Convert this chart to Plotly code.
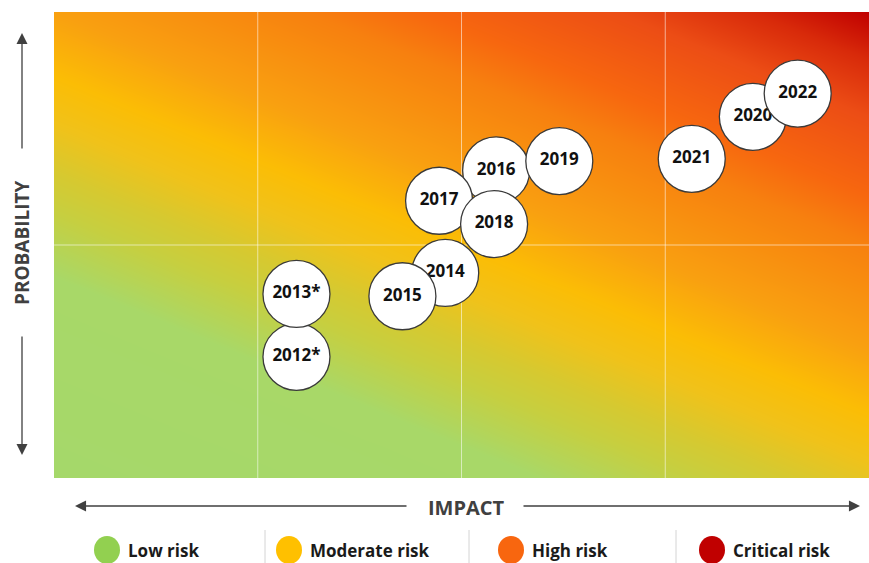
import numpy as np
import plotly.graph_objects as go

# ---- data ----
years = ["2012*", "2013*", "2014", "2015", "2016", "2017", "2018", "2019", "2020", "2021", "2022"]
impact = [1.19, 1.19, 1.92, 1.71, 2.17, 1.89, 2.16, 2.48, 3.43, 3.13, 3.65]
probability = [0.52, 0.79, 0.88, 0.78, 1.32, 1.19, 1.09, 1.36, 1.55, 1.37, 1.65]

risk_levels = ["Low risk", "Moderate risk", "High risk", "Critical risk"]
risk_colors = ["#92d050", "#ffc000", "#f8660f", "#c00000"]

X_MAX, Y_MAX = 4, 2
FONT = "Open Sans"

# ---- background gradient (styling) ----
gx = np.linspace(0, X_MAX, 60)
gy = np.linspace(0, Y_MAX, 60)
GX, GY = np.meshgrid(gx, gy)
gz = 0.42 * GX / X_MAX + 0.58 * GY / Y_MAX
bg_scale = [
    [0.0, "#a5d86a"], [0.25, "#a8d868"], [0.33, "#c6cf40"], [0.38, "#d6c930"],
    [0.44, "#f0c21a"], [0.5, "#fbbd05"], [0.58, "#f9a010"], [0.71, "#f7800f"],
    [0.77, "#f7670f"], [0.87, "#ec4d15"], [0.94, "#d82a0a"], [1.0, "#c00000"],
]

fig = go.Figure()
fig.add_trace(go.Heatmap(x=gx, y=gy, z=gz, colorscale=bg_scale, zsmooth="best",
                         zmin=0, zmax=1, showscale=False, hoverinfo="skip"))

# faint grid lines above the gradient, below the circles
grid_x = [1, 2, 3]
grid_y = [1]
lx, ly = [], []
for g in grid_x:
    lx += [g, g, None]
    ly += [0, Y_MAX, None]
for g in grid_y:
    lx += [0, X_MAX, None]
    ly += [g, g, None]
fig.add_trace(go.Scatter(x=lx, y=ly, mode="lines",
                         line=dict(color="rgba(255,255,255,0.55)", width=1),
                         hoverinfo="skip", showlegend=False))

for yr, xi, yi in zip(years, impact, probability):
    fig.add_trace(go.Scatter(
        x=[xi], y=[yi], mode="markers+text", text=[yr], textposition="middle center",
        marker=dict(size=67, color="white", line=dict(color="#3a3a3a", width=1.3)),
        textfont=dict(family=FONT, size=17, color="#111111", weight="bold"),
        showlegend=False, hoverinfo="skip"))

W, H = 869, 563
L, R, T, B = 54, 0, 12, 85
pw, ph = W - L - R, H - T - B


def px(xp):
    return (xp - L) / pw


def py(yp):
    return (H - B - yp) / ph


annotations = []
shapes = []
axis_col = "#404040"
# axis titles
annotations.append(dict(x=px(22), y=py(243), xref="paper", yref="paper", text="<b>PROBABILITY</b>",
                        textangle=-90, showarrow=False, xanchor="center", yanchor="middle",
                        font=dict(family=FONT, size=19, color=axis_col)))
annotations.append(dict(x=px(466), y=py(507), xref="paper", yref="paper", text="<b>IMPACT</b>",
                        showarrow=False, xanchor="center", yanchor="middle",
                        font=dict(family=FONT, size=20, color=axis_col)))
# arrows
arrow = dict(xref="paper", yref="paper", axref="pixel", ayref="pixel", text="", showarrow=True,
             arrowhead=2, arrowsize=1.7, arrowwidth=1.3, arrowcolor=axis_col)
annotations.append(dict(arrow, x=px(22), y=py(33), ax=0, ay=117))
annotations.append(dict(arrow, x=px(22), y=py(455), ax=0, ay=-120))
annotations.append(dict(arrow, x=px(75), y=py(506), ax=333, ay=0))
annotations.append(dict(arrow, x=px(860), y=py(506), ax=-338, ay=0))

# custom legend
leg_cx = [107, 289, 511, 712]
leg_y = 550
for name, col, cx in zip(risk_levels, risk_colors, leg_cx):
    shapes.append(dict(type="circle", xref="paper", yref="paper", xsizemode="pixel", ysizemode="pixel",
                       xanchor=px(cx), yanchor=py(leg_y), x0=-13, x1=13, y0=-14, y1=14,
                       fillcolor=col, line=dict(width=0)))
    annotations.append(dict(x=px(cx + 19), y=py(leg_y), xref="paper", yref="paper", xanchor="left",
                            yanchor="middle", text="<b>%s</b>" % name, showarrow=False,
                            font=dict(family=FONT, size=17, color="#1a1a1a")))
for sx in [265, 469, 676]:
    shapes.append(dict(type="line", xref="paper", yref="paper", x0=px(sx), x1=px(sx),
                       y0=py(530), y1=py(563), line=dict(color="#d4d4d4", width=1)))

fig.update_layout(
    width=W, height=H, margin=dict(l=L, r=R, t=T, b=B),
    paper_bgcolor="white", plot_bgcolor="white",
    xaxis=dict(range=[0, X_MAX], showgrid=False, zeroline=False, showticklabels=False, ticks="",
               fixedrange=True),
    yaxis=dict(range=[0, Y_MAX], showgrid=False, zeroline=False, showticklabels=False, ticks="",
               fixedrange=True),
    annotations=annotations, shapes=shapes, showlegend=False,
)
fig.write_html("out.html", config={"displayModeBar": False},
               post_script="document.body.style.margin='0';document.body.style.overflow='hidden';")
